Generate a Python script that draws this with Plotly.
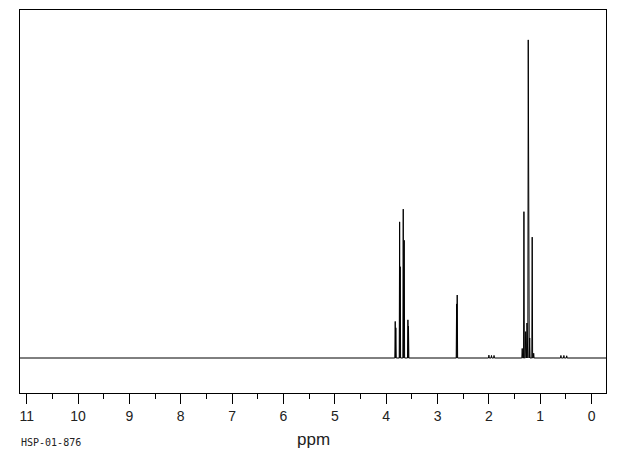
import plotly.graph_objects as go

# Peak list (chemical shift in ppm, relative intensity)
peak_ppm = [3.824, 3.812, 3.738, 3.727, 3.668, 3.649, 3.577, 3.566,
            2.629, 2.617,
            2.00, 1.95, 1.90,
            1.351, 1.318, 1.284, 1.259, 1.234, 1.206, 1.157, 1.128,
            0.598, 0.54, 0.485]
peak_height = [11.5, 9.5, 42.8, 28.7, 46.8, 37.0, 12.0, 10.0,
               17.0, 19.8,
               0.9, 0.8, 0.8,
               3.0, 46.0, 8.3, 11.0, 100.0, 6.3, 38.0, 1.5,
               0.8, 0.8, 0.7]

tick_values = [11, 10, 9, 8, 7, 6, 5, 4, 3, 2, 1, 0]
tick_labels = [str(v) for v in tick_values]

x_left, x_right = 11.13, -0.28
half_width = 0.008

pairs = sorted(zip(peak_ppm, peak_height), reverse=True)
xs = [x_left]
ys = [0]
for p, h in pairs:
    xs += [p + half_width, p, p - half_width]
    ys += [0, h, 0]
xs.append(x_right)
ys.append(0)

fig = go.Figure()
fig.add_trace(go.Scatter(x=xs, y=ys, mode="lines",
                         line=dict(color="black", width=1),
                         hoverinfo="skip", showlegend=False))

fig.update_layout(
    width=620, height=455,
    margin=dict(l=20, r=14, t=10, b=62),
    paper_bgcolor="white", plot_bgcolor="white",
    showlegend=False,
    xaxis=dict(
        range=[x_left, x_right],
        tickvals=tick_values, ticktext=tick_labels,
        ticks="outside", ticklen=10, tickwidth=1, tickcolor="black",
        minor=dict(dtick=0.5, tick0=0, ticks="outside", ticklen=5,
                   tickwidth=1, tickcolor="black"),
        showline=True, mirror=True, linecolor="black", linewidth=1,
        showgrid=False, zeroline=False,
        tickfont=dict(family="Liberation Sans", size=14, color="#222"),
    ),
    yaxis=dict(
        range=[-11.0, 109.4],
        showticklabels=False, ticks="",
        showline=True, mirror=True, linecolor="black", linewidth=1,
        showgrid=False, zeroline=False,
    ),
    annotations=[
        dict(text="ppm", x=0.5, y=-0.1227, xref="paper", yref="paper",
             showarrow=False, xanchor="center", yanchor="middle",
             font=dict(family="Liberation Sans", size=17, color="#222")),
        dict(text="HSP-01-876", x=-0.002, y=-0.1305, xref="paper", yref="paper",
             showarrow=False, xanchor="left", yanchor="middle",
             font=dict(family="DejaVu Sans Mono", size=10, color="#222")),
    ],
)

fig.write_html("out.html",
               config={"displayModeBar": False},
               post_script="document.body.style.margin='0px';document.body.style.overflow='hidden';")
